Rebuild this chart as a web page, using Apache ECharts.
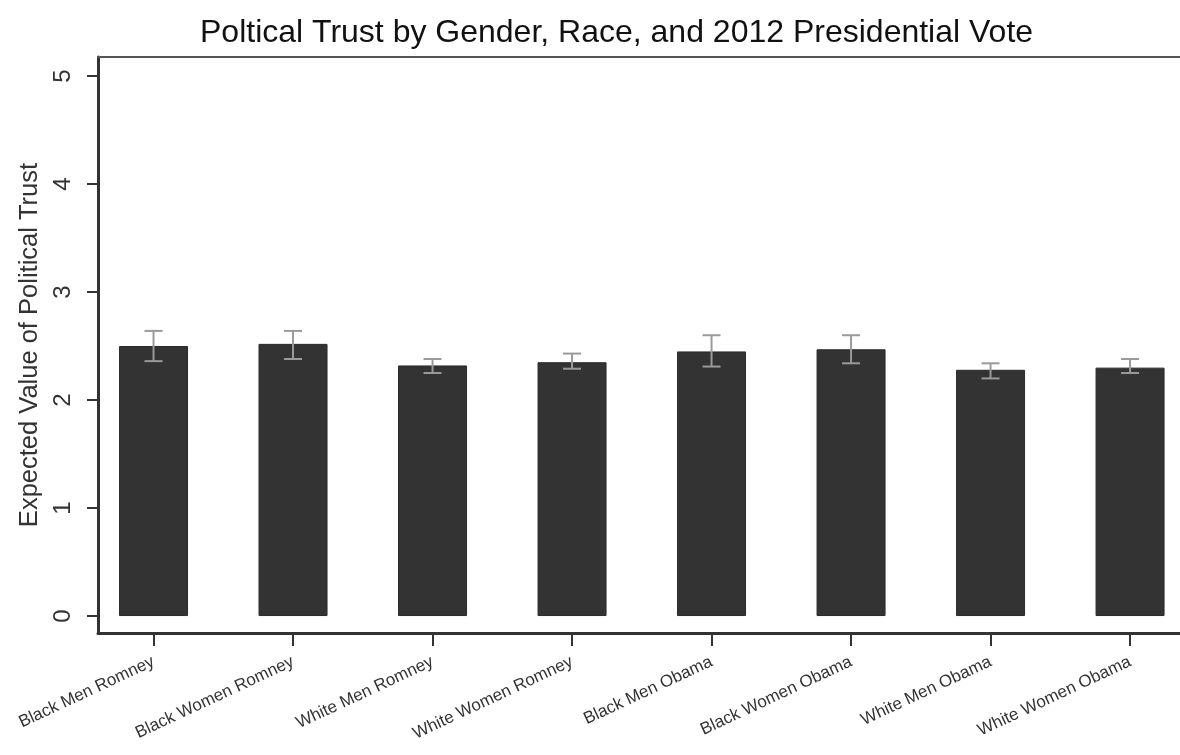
<!DOCTYPE html>
<html>
<head>
<meta charset="utf-8">
<script src="https://cdn.jsdelivr.net/npm/echarts@6/dist/echarts.min.js"></script>
<style>
html,body{margin:0;padding:0;background:#fff;}
#chart{width:1180px;height:755px;}
</style>
</head>
<body>
<div id="chart"></div>
<script>
const categories = ["Black Men Romney","Black Women Romney","White Men Romney","White Women Romney","Black Men Obama","Black Women Obama","White Men Obama","White Women Obama"];
const means = [2.50, 2.52, 2.32, 2.35, 2.45, 2.47, 2.28, 2.30];
const ciLow = [2.36, 2.38, 2.25, 2.29, 2.31, 2.34, 2.20, 2.25];
const ciHigh = [2.64, 2.64, 2.38, 2.43, 2.60, 2.60, 2.34, 2.38];
const yTicks = [0, 1, 2, 3, 4, 5];

const FONT = '"Liberation Sans", Arial, Helvetica, sans-serif';
const chart = echarts.init(document.getElementById('chart'), null, {renderer:'canvas'});

const barData = means.map((v, i) => [i, v]);
const errData = ciLow.map((lo, i) => [i, lo, ciHigh[i]]);
const catIdx = categories.map((c, i) => i);
const X_MIN = -0.398, X_MAX = 7.358;

chart.setOption({
  animation: false,
  backgroundColor: '#fff',
  title: {
    text: 'Poltical Trust by Gender, Race, and 2012 Presidential Vote',
    left: 195, top: 12,
    textStyle: {fontFamily: FONT, fontSize: 32, fontWeight: 'normal', color: '#111'}
  },
  grid: {
    left: 98, right: 0, top: 57, bottom: 122,
    show: false
  },
  xAxis: [
    {
      type: 'value',
      min: X_MIN, max: X_MAX,
      splitLine: {show: false},
      axisLine: {show: true, onZero: false, lineStyle: {color: '#333', width: 3}},
      axisTick: {show: true, length: 13, customValues: catIdx, lineStyle: {color: '#333', width: 2}},
      axisLabel: {
        customValues: catIdx,
        formatter: v => categories[Math.round(v)],
        rotate: 25, margin: 28,
        fontFamily: FONT, fontSize: 17, color: '#333'
      }
    },
    {
      type: 'value',
      position: 'top',
      min: X_MIN, max: X_MAX,
      splitLine: {show: false},
      axisLine: {show: true, onZero: false, lineStyle: {color: '#555', width: 2}},
      axisTick: {show: false},
      axisLabel: {show: false}
    }
  ],
  yAxis: {
    type: 'value',
    min: -0.157, max: 5.176,
    name: 'Expected Value of Political Trust',
    nameLocation: 'middle', nameGap: 50,
    nameTextStyle: {fontFamily: FONT, fontSize: 25.5, color: '#333'},
    splitLine: {show: false},
    axisLine: {show: true, onZero: false, lineStyle: {color: '#333', width: 3}},
    axisTick: {show: true, length: 11, customValues: yTicks, lineStyle: {color: '#333', width: 2}},
    axisLabel: {
      customValues: yTicks,
      rotate: 90, margin: 23,
      fontFamily: FONT, fontSize: 24, color: '#333'
    }
  },
  series: [
    {
      type: 'bar',
      xAxisIndex: 0,
      data: barData,
      barWidth: 69,
      itemStyle: {color: '#333333', borderColor: '#2a2a2a', borderWidth: 1}
    },
    {
      type: 'custom',
      xAxisIndex: 0,
      data: errData,
      z: 10,
      renderItem: function (params, api) {
        const x = api.value(0);
        const lo = api.coord([x, api.value(1)]);
        const hi = api.coord([x, api.value(2)]);
        const hw = 9;
        const style = {stroke: '#9a9a9a', lineWidth: 2};
        return {
          type: 'group',
          children: [
            {type: 'line', shape: {x1: lo[0], y1: lo[1], x2: hi[0], y2: hi[1]}, style: style},
            {type: 'line', shape: {x1: hi[0] - hw, y1: hi[1], x2: hi[0] + hw, y2: hi[1]}, style: style},
            {type: 'line', shape: {x1: lo[0] - hw, y1: lo[1], x2: lo[0] + hw, y2: lo[1]}, style: style}
          ]
        };
      }
    }
  ]
});
</script>
</body>
</html>
